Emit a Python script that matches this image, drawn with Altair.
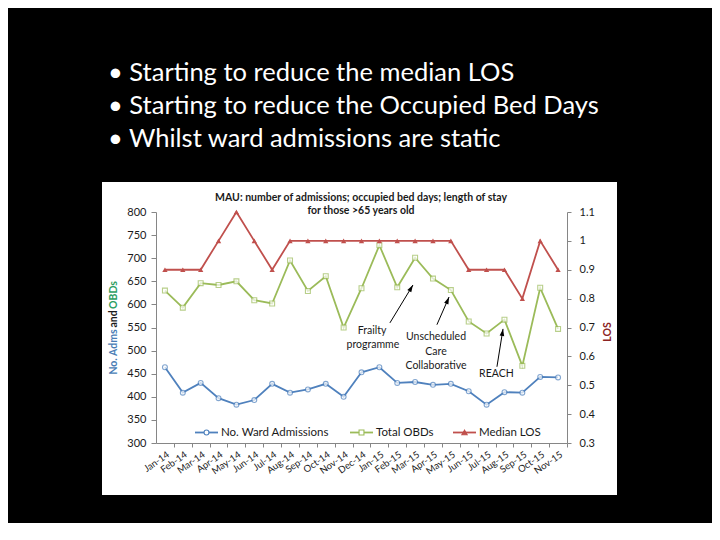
import altair as alt
import pandas as pd

# ---------------- data ----------------
months = ["Jan-14", "Feb-14", "Mar-14", "Apr-14", "May-14", "Jun-14", "Jul-14", "Aug-14",
          "Sep-14", "Oct-14", "Nov-14", "Dec-14", "Jan-15", "Feb-15", "Mar-15", "Apr-15",
          "May-15", "Jun-15", "Jul-15", "Aug-15", "Sep-15", "Oct-15", "Nov-15"]
admissions = [464, 409, 430, 397, 383, 393, 428, 409, 416, 428, 400, 453,
              464, 430, 432, 426, 428, 412, 383, 410, 409, 443, 442]
obds = [630, 593, 646, 642, 650, 609, 602, 695, 629, 661, 550, 635,
        728, 637, 701, 656, 631, 563, 537, 567, 467, 636, 547]
los = [0.9, 0.9, 0.9, 1.0, 1.1, 1.0, 0.9, 1.0, 1.0, 1.0, 1.0, 1.0,
       1.0, 1.0, 1.0, 1.0, 1.0, 0.9, 0.9, 0.9, 0.8, 1.0, 0.9]
series_names = ["No. Ward Admissions", "Total OBDs", "Median LOS"]
series_colors = ["#4F81BD", "#9BBB59", "#C0504D"]
series_shapes = ["circle", "square", "triangle-up"]
series_fills = ["white", "white", "#C0504D"]

bullets = ["• Starting to reduce the median LOS",
           "• Starting to reduce the Occupied Bed Days",
           "• Whilst ward admissions are static"]
chart_title = ["MAU: number of admissions;  occupied  bed days; length of stay",
               "for those >65 years old"]

ann_labels = ["Frailty", "programme", "Unscheduled", "Care", "Collaborative", "REACH"]
ann_idx = [11.59, 11.64, 15.17, 15.17, 15.17, 18.55]
ann_val = [543, 513, 530, 498, 467, 450]
arrow_tail_idx = [12.59, 15.22, 18.58]
arrow_tail_val = [560, 556, 465]
arrow_tip_idx = [13.88, 15.90, 18.92]
arrow_tip_val = [642, 616, 547]
arrow_angle = [31, 23, 9]

# ---------------- frames ----------------
idx = list(range(len(months)))
adm_df = pd.DataFrame({"idx": idx, "month": months, "series": series_names[0], "value": admissions})
obd_df = pd.DataFrame({"idx": idx, "month": months, "series": series_names[1], "value": obds})
left_df = pd.concat([adm_df, obd_df])
right_df = pd.DataFrame({"idx": idx, "month": months, "series": series_names[2], "value": los})
ann_df = pd.DataFrame({"idx": ann_idx, "value": ann_val, "label": ann_labels})
arrow_df = pd.DataFrame({"idx": arrow_tail_idx, "value": arrow_tail_val,
                         "idx2": arrow_tip_idx, "value2": arrow_tip_val, "angle": arrow_angle})

FONT = "Lato"
AX = "#868686"
TXT = "#1a1a1a"
STEP = 411 / 23

month_js = "[" + ",".join("'" + m + "'" for m in months) + "]"

X_SCALE = alt.Scale(domain=[-0.5, 22.5], nice=False, zero=False)
X_AXIS = alt.Axis(values=idx, labelExpr=month_js + "[datum.value]", labelAngle=-35,
                  labelFontSize=9.5, labelFont=FONT, labelColor=TXT, labelOverlap=False,
                  tickOffset=STEP / 2, labelOffset=-STEP / 2, tickSize=4,
                  domainColor=AX, tickColor=AX, grid=False, labelPadding=2, zindex=2)
YL_SCALE = alt.Scale(domain=[300, 800], nice=False, zero=False)
YL_AXIS = alt.Axis(values=list(range(300, 801, 50)), labelFontSize=11, labelFont=FONT,
                   labelColor=TXT, domainColor=AX, tickColor=AX, tickSize=5,
                   labelPadding=5, grid=False, zindex=2)


def X(field="idx"):
    return alt.X(field + ":Q", title=None, scale=X_SCALE, axis=X_AXIS)


def YL(field="value"):
    return alt.Y(field + ":Q", title=None, scale=YL_SCALE, axis=YL_AXIS)


Y_right = alt.Y("value:Q", title=None,
                scale=alt.Scale(domain=[0.3, 1.1], nice=False, zero=False),
                axis=alt.Axis(orient="right", values=[0.3, 0.4, 0.5, 0.6, 0.7, 0.8, 0.9, 1.0, 1.1],
                              format="~g", labelFontSize=11, labelFont=FONT, labelColor=TXT,
                              domainColor=AX, tickColor=AX, tickSize=4, labelPadding=8, grid=False,
                              zindex=2))

color_scale = alt.Scale(domain=series_names, range=series_colors)
COLOR = alt.Color("series:N", scale=color_scale, legend=None)

# ---------------- decoration layers ----------------
one = pd.DataFrame({"a": [0]})
bg = alt.Chart(one).mark_rect(color="white").encode(
    x=alt.value(-54), x2=alt.value(461), y=alt.value(-30), y2=alt.value(283))

bullet_layers = [
    alt.Chart(one).mark_text(
        text=b, font=FONT, fontSize=25.5, color="white", align="left", baseline="alphabetic"
    ).encode(x=alt.value(-48), y=alt.value(-131 + 33 * i))
    for i, b in enumerate(bullets)
]


def label(txt, x, y, color, angle=270, size=10.5, weight="bold", align="center"):
    return alt.Chart(one).mark_text(
        text=txt, font=FONT, fontSize=size, fontWeight=weight, color=color,
        angle=angle, align=align, baseline="middle"
    ).encode(x=alt.value(x), y=alt.value(y))


text_layers = [
    label("No. Adms", -42, 140, "#4A7DB5"),
    label("and", -42, 107, TXT),
    label("OBDs", -42, 83, "#2E9E63"),
    label("LOS", 452, 120, "#8B2323"),
    label(chart_title[0], 205, -14, TXT, angle=0),
    label(chart_title[1], 205, -1, TXT, angle=0),
]

# legend drawn inside the plot, as in the original
legend_layers = []
leg_y = 220.5
for name, col, shp, fil, x0 in zip(series_names, series_colors, series_shapes, series_fills,
                                   [39, 194, 297]):
    legend_layers.append(alt.Chart(one).mark_rule(color=col, strokeWidth=1.8).encode(
        x=alt.value(x0), x2=alt.value(x0 + 23), y=alt.value(leg_y)))
    legend_layers.append(alt.Chart(one).mark_point(
        shape=shp, size=24 if shp != "triangle-up" else 28, filled=True, fill=fil, stroke=col,
        strokeWidth=1.1, opacity=1).encode(x=alt.value(x0 + 11.5), y=alt.value(leg_y)))
    legend_layers.append(label(name, x0 + 26, leg_y, TXT, angle=0, size=11.5,
                               weight="normal", align="left"))

# ---------------- data layers ----------------
line_left = alt.Chart(left_df).mark_line(strokeWidth=1.8).encode(x=X(), y=YL(), color=COLOR)
pts_adm = alt.Chart(adm_df).mark_point(shape="circle", size=24, strokeWidth=1.1).encode(
    x=X(), y=YL(), color=COLOR, fill=alt.value("white"))
pts_obd = alt.Chart(obd_df).mark_point(shape="square", size=24, strokeWidth=1.1).encode(
    x=X(), y=YL(), color=COLOR, fill=alt.value("white"))

ann_text = alt.Chart(ann_df).mark_text(font=FONT, fontSize=10.5, color=TXT).encode(
    x=X(), y=YL(), text="label:N")
ann_rule = alt.Chart(arrow_df).mark_rule(color="black", strokeWidth=1).encode(
    x=X(), y=YL(), x2="idx2:Q", y2="value2:Q")
ann_head = alt.Chart(arrow_df).mark_point(
    shape="M0,0L0.55,1.7L-0.55,1.7Z", filled=True, color="black", size=70, opacity=1
).encode(x=X("idx2"), y=YL("value2"), angle=alt.Angle("angle:Q", scale=None))

left = alt.layer(line_left, pts_adm, pts_obd, ann_rule, ann_head, ann_text)

line_right = alt.Chart(right_df).mark_line(strokeWidth=1.8).encode(x=X(), y=Y_right, color=COLOR)
pts_right = alt.Chart(right_df).mark_point(filled=True, shape="triangle-up", size=28, opacity=1).encode(
    x=X(), y=Y_right, color=COLOR)
right = alt.layer(line_right, pts_right)

chart = alt.layer(bg, *bullet_layers, *text_layers, *legend_layers, left, right).resolve_scale(
    y="independent"
).properties(
    width=411, height=231,
    autosize=alt.AutoSizeParams(type="none"),
    padding={"left": 148, "top": 204, "right": 145, "bottom": 80},
    background="black",
).configure_view(stroke=None)

chart.save("out.html", embed_options={"renderer": "svg", "actions": False})
